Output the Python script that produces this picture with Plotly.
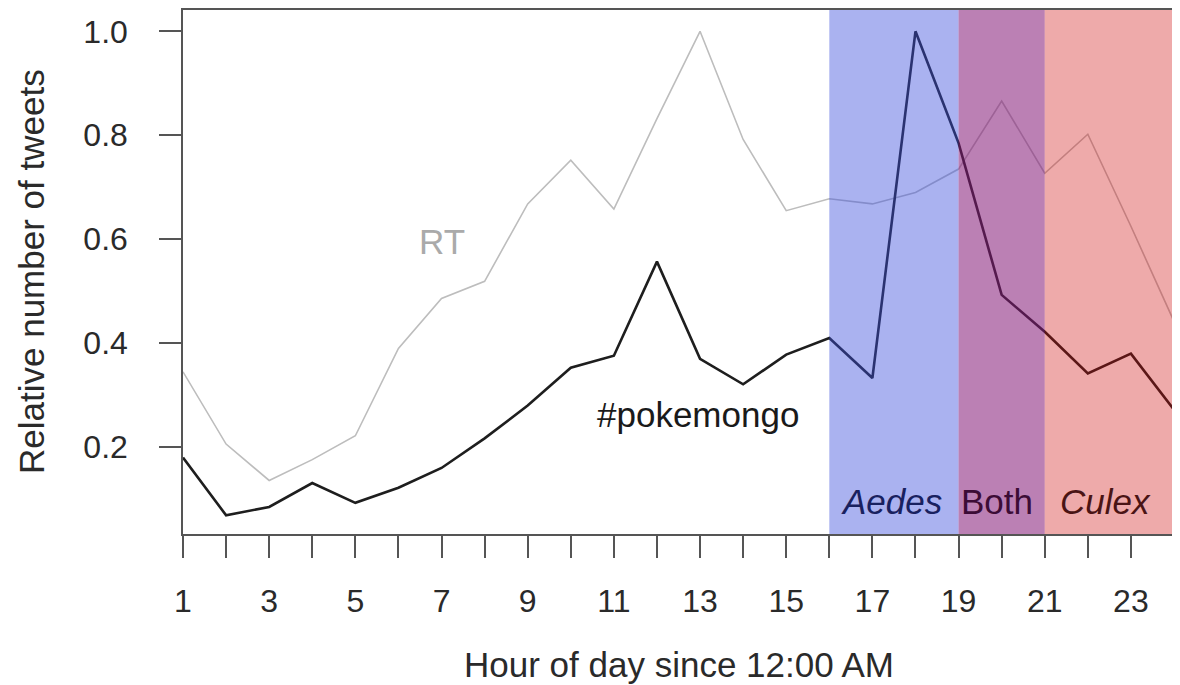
import plotly.graph_objects as go

hours = list(range(1, 25))
pokemongo = [0.180, 0.069, 0.085, 0.131, 0.093, 0.122, 0.160, 0.217, 0.280, 0.353,
             0.376, 0.557, 0.370, 0.321, 0.378, 0.410, 0.333, 1.000, 0.785, 0.493,
             0.422, 0.342, 0.380, 0.272]
rt = [0.345, 0.206, 0.136, 0.176, 0.222, 0.390, 0.486, 0.519, 0.668, 0.752,
      0.658, 0.832, 1.000, 0.792, 0.655, 0.678, 0.668, 0.690, 0.735, 0.866,
      0.727, 0.802, 0.625, 0.442]
x_tick_labels = [str(h) if h % 2 == 1 else "" for h in hours]
y_tick_vals = [0.2, 0.4, 0.6, 0.8, 1.0]
y_tick_labels = ["0.2", "0.4", "0.6", "0.8", "1.0"]

regions = ["Aedes", "Both", "Culex"]
region_start = [16, 19, 21]
region_end = [19, 21, 24]
region_fill = ["rgba(58,77,221,0.43)", "rgba(131,24,119,0.55)", "rgba(206,11,11,0.35)"]
region_text = ["<i>Aedes</i>", "Both", "<i>Culex</i>"]
region_text_color = ["#19215f", "#3c0c36", "#4a1414"]
region_label_x = [17.45, 19.89, 22.42]

FONT = "Liberation Sans, Arial, Helvetica, sans-serif"
AX = "#555555"

fig = go.Figure()
fig.add_trace(go.Scatter(x=hours, y=rt, mode="lines",
                         line=dict(color="#bdbdbd", width=1.6), showlegend=False))
fig.add_trace(go.Scatter(x=hours, y=pokemongo, mode="lines",
                         line=dict(color="#1e1e1e", width=2.6), showlegend=False))

for s, e, c in zip(region_start, region_end, region_fill):
    fig.add_shape(type="rect", xref="x", yref="paper", x0=s, x1=e, y0=0, y1=1,
                  fillcolor=c, line=dict(width=0), layer="above")

for t, xc, col in zip(region_text, region_label_x, region_text_color):
    fig.add_annotation(x=xc, y=0.095, xref="x", yref="y", text=t, showarrow=False,
                       font=dict(family=FONT, size=35, color=col),
                       xanchor="center", yanchor="middle")

fig.add_annotation(x=7.0, y=0.595, xref="x", yref="y", text="RT", showarrow=False,
                   font=dict(family=FONT, size=35, color="#aaaaaa"),
                   xanchor="center", yanchor="middle")
fig.add_annotation(x=12.95, y=0.263, xref="x", yref="y", text="#pokemongo", showarrow=False,
                   font=dict(family=FONT, size=35, color="#1a1a1a"),
                   xanchor="center", yanchor="middle")

# axis titles
fig.add_annotation(x=0.5, y=0, xref="paper", yref="paper", yshift=-130,
                   text="Hour of day since 12:00 AM", showarrow=False,
                   font=dict(family=FONT, size=35, color="#2a2a2a"),
                   xanchor="center", yanchor="middle")
fig.add_annotation(x=0, y=0.5, xref="paper", yref="paper", xshift=-152,
                   text="Relative number of tweets", showarrow=False, textangle=-90,
                   font=dict(family=FONT, size=35, color="#2a2a2a"),
                   xanchor="center", yanchor="middle")

fig.update_xaxes(range=[1, 24], tickvals=hours, ticktext=x_tick_labels,
                 ticks="outside", ticklen=22, tickwidth=1.5, tickcolor=AX,
                 showline=True, linecolor=AX, linewidth=1.5, mirror=True,
                 showgrid=False, zeroline=False, ticklabelstandoff=16,
                 tickfont=dict(family=FONT, size=32, color="#2a2a2a"))
fig.update_yaxes(range=[0.033, 1.041], tickvals=y_tick_vals, ticktext=y_tick_labels,
                 ticks="outside", ticklen=22, tickwidth=1.5, tickcolor=AX,
                 showline=True, linecolor=AX, linewidth=1.5, mirror=True,
                 showgrid=False, zeroline=False, ticklabelstandoff=25,
                 tickfont=dict(family=FONT, size=32, color="#2a2a2a"))

# the page adds an 8px body margin, so the figure is sized to the visible area
fig.update_layout(width=1172, height=677, autosize=False,
                  margin=dict(l=175, r=6, t=0, b=151),
                  plot_bgcolor="white", paper_bgcolor="white",
                  font=dict(family=FONT))

fig.write_html("out.html")
